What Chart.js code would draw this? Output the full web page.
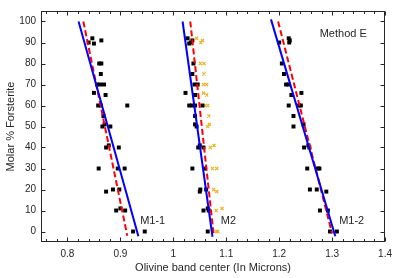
<!DOCTYPE html>
<html>
<head>
<meta charset="utf-8">
<script src="https://cdn.jsdelivr.net/npm/chart.js@4"></script>
<style>
  html, body { margin: 0; padding: 0; background: #fff; }
</style>
</head>
<body>
<canvas id="chart" width="398" height="278"></canvas>
<script>
// Tick labels
const xTicks = [0.8, 0.9, 1, 1.1, 1.2, 1.3, 1.4];
const yTicks = [0, 10, 20, 30, 40, 50, 60, 70, 80, 90, 100];

// M1-1 band centres (black squares)
const m11X = [0.840, 0.847, 0.850, 0.864, 0.860, 0.864, 0.863, 0.856, 0.862, 0.869, 0.850, 0.872, 0.858, 0.863, 0.913, 0.868, 0.870, 0.866, 0.881, 0.873, 0.878, 0.897, 0.859, 0.895, 0.908, 0.873, 0.886, 0.898, 0.892, 0.900, 0.909, 0.924, 0.946];
const m11Y = [90, 92, 89.5, 91, 80, 80, 75, 70, 70, 70, 66, 65, 60, 60, 60, 55, 51, 50, 50, 40, 41, 40, 30, 30, 30, 19, 20, 20, 10, 11, 10, 0, 0];

// M2 band centres (black squares)
const m2X = [1.027, 1.030, 1.036, 1.033, 1.038, 1.036, 1.040, 1.046, 1.023, 1.041, 1.030, 1.035, 1.041, 1.055, 1.041, 1.041, 1.044, 1.047, 1.050, 1.057, 1.036, 1.060, 1.050, 1.051, 1.062, 1.057, 1.065, 1.067, 1.065];
const m2Y = [92, 89.5, 91, 90, 80, 75, 70, 70, 66, 65, 60, 60, 60, 60, 55, 51, 50, 40, 41, 40, 30, 30, 19, 20, 20, 10, 11, 10, 0];

// M2 band centres, second set (orange crosses)
const m2bX = [1.044, 1.052, 1.055, 1.051, 1.058, 1.058, 1.057, 1.063, 1.057, 1.063, 1.060, 1.065, 1.067, 1.068, 1.065, 1.070, 1.077, 1.074, 1.082, 1.076, 1.082, 1.081, 1.092, 1.081, 1.084];
const m2bY = [92, 90, 91, 80, 80, 75, 70, 70, 66, 65, 60, 60, 55, 51, 50, 40, 41, 30, 30, 20, 19, 10, 11, 0, 0];

// M1-2 band centres (black squares)
const m12X = [1.200, 1.218, 1.220, 1.219, 1.205, 1.209, 1.213, 1.218, 1.223, 1.242, 1.218, 1.237, 1.241, 1.227, 1.227, 1.246, 1.247, 1.255, 1.257, 1.253, 1.273, 1.276, 1.258, 1.271, 1.289, 1.277, 1.292, 1.296, 1.309];
const m12Y = [90, 92, 91, 90, 80, 75, 70, 70, 65, 66, 60, 60, 60, 55, 50, 51, 40, 41, 40, 30, 30, 30, 20, 20, 19, 10, 10, 0, 0];

// fit lines (end points)
const blueM11X = [0.821, 0.934],  blueM11Y = [100, -2.3];
const blueM2X  = [1.0175, 1.074], blueM2Y  = [100, -2.5];
const blueM12X = [1.1845, 1.306], blueM12Y = [101, -2.3];
const redM11X  = [0.830, 0.913],  redM11Y  = [100, -2];
const redM2X   = [1.032, 1.076],  redM2Y   = [100, -1];
const redM12X  = [1.198, 1.300],  redM12Y  = [100, -1];

const ink = '#262626';
const fontFam = '"Liberation Sans", Arial, Helvetica, sans-serif';

function pts(xs, ys) { return xs.map((x, i) => ({ x: x, y: ys[i] })); }

function squares(xs, ys) {
    return { data: pts(xs, ys), pointStyle: 'rect', pointRadius: 2.8, backgroundColor: '#000', borderWidth: 0, showLine: false, order: 2 };
}
function fit(xs, ys, color, dash, order) {
    return { data: pts(xs, ys), showLine: true, pointRadius: 0, borderColor: color, borderWidth: 2, borderDash: dash, fill: false, order: order };
}

// texts inside the axes (data coordinates)
const notes = [
    { text: 'Method E', x: 1.321, y: 94 },
    { text: 'M1-1', x: 0.961, y: 5 },
    { text: 'M2', x: 1.104, y: 5 },
    { text: 'M1-2', x: 1.337, y: 5 }
];

// box, inward ticks and texts
const boxPlugin = {
    id: 'box',
    afterDatasetsDraw(chart) {
        const { ctx, chartArea: a, scales: { x, y } } = chart;
        const L = Math.round(a.left) + 0.5, R = Math.round(a.right) - 0.5;
        const T = Math.round(a.top) + 0.5, B = Math.round(a.bottom) - 0.5;
        ctx.save();
        ctx.strokeStyle = ink;
        ctx.lineWidth = 1;
        ctx.beginPath();
        for (let k = 38; k <= 70; k++) {
            const px = Math.round(x.getPixelForValue(k / 50)) + 0.5;
            const len = k % 5 === 0 ? 4 : 2.5;
            ctx.moveTo(px, B); ctx.lineTo(px, B - len);
            ctx.moveTo(px, T); ctx.lineTo(px, T + len);
        }
        yTicks.forEach(v => {
            const py = Math.round(y.getPixelForValue(v)) + 0.5;
            ctx.moveTo(L, py); ctx.lineTo(L + 4, py);
            ctx.moveTo(R, py); ctx.lineTo(R - 4, py);
        });
        ctx.stroke();
        ctx.strokeRect(L, T, R - L, B - T);

        ctx.fillStyle = ink;
        ctx.font = '11px ' + fontFam;
        ctx.textAlign = 'center';
        ctx.textBaseline = 'middle';
        notes.forEach(n => ctx.fillText(n.text, x.getPixelForValue(n.x), y.getPixelForValue(n.y)));
        ctx.restore();
    }
};

Chart.defaults.font.family = fontFam;
Chart.defaults.color = ink;

new Chart(document.getElementById('chart'), {
    type: 'scatter',
    data: {
        datasets: [
            fit(blueM11X, blueM11Y, '#0000FF', [], 0),
            fit(blueM2X, blueM2Y, '#0000FF', [], 0),
            fit(blueM12X, blueM12Y, '#0000FF', [], 0),
            fit(redM11X, redM11Y, '#FF0000', [6, 3], 1),
            fit(redM2X, redM2Y, '#FF0000', [6, 3], 1),
            fit(redM12X, redM12Y, '#FF0000', [6, 3], 1),
            squares(m11X, m11Y),
            squares(m2X, m2Y),
            squares(m12X, m12Y),
            { data: pts(m2bX, m2bY), pointStyle: 'crossRot', pointRadius: 2.2, borderColor: '#EDB120', borderWidth: 1.2, showLine: false, order: 3 }
        ]
    },
    options: {
        responsive: false,
        animation: false,
        layout: { padding: { left: 0, right: 12, top: 3, bottom: 0 } },
        plugins: { legend: { display: false }, tooltip: { enabled: false } },
        scales: {
            x: {
                type: 'linear', min: 0.75, max: 1.4,
                grid: { display: false, drawTicks: false },
                border: { display: false },
                afterBuildTicks: s => { s.ticks = xTicks.map(v => ({ value: v })); },
                afterFit: s => { s.height = 36; },
                ticks: { font: { size: 10 }, color: ink, padding: 6, autoSkip: false, maxRotation: 0,
                         callback: v => String(+v.toFixed(1)) },
                title: { display: true, text: 'Olivine band center (In Microns)', font: { size: 11 }, color: ink, padding: { top: 0, bottom: 3 } }
            },
            y: {
                type: 'linear', min: -5, max: 105,
                grid: { display: false, drawTicks: false },
                border: { display: false },
                afterBuildTicks: s => { s.ticks = yTicks.map(v => ({ value: v })); },
                afterFit: s => { s.width = 41; },
                ticks: { font: { size: 10 }, color: ink, padding: 5, autoSkip: false },
                title: { display: true, text: 'Molar % Forsterite', font: { size: 11 }, color: ink, padding: { top: 4, bottom: 0 } }
            }
        }
    },
    plugins: [boxPlugin]
});
</script>
</body>
</html>
